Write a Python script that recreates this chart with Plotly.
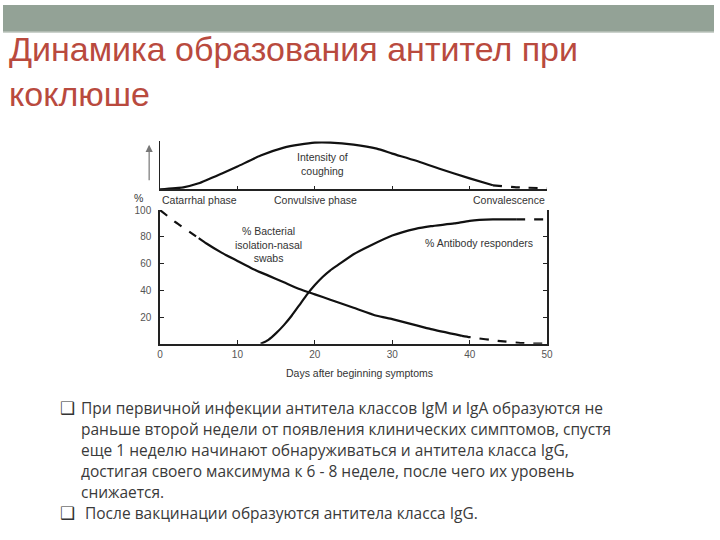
import plotly.graph_objects as go

# ---------------- data ----------------
cough_days = [0, 3, 5, 8, 10, 13, 16, 18, 20, 22, 25, 28, 30, 33, 36, 40, 43, 46, 50]
cough_intensity = [0, 2, 6, 16, 23, 34, 42, 45, 47, 47, 45, 41, 36, 29, 21, 11, 4, 2, 1]
cough_dash_from = 43

bact_days = [0, 2, 4, 5, 6, 8, 10, 12, 14, 16, 18, 20, 22, 25, 28, 30, 33, 35, 39, 40, 44, 47, 50]
bact_values = [100, 91, 83, 79, 75, 68, 62, 56, 51, 46, 41, 37, 33, 27, 21, 18.5, 14, 11, 6, 5, 2, 0.5, 0]
bact_dash_until = 5
bact_dash_from = 39

ab_days = [13, 14, 15, 16, 17, 18, 19, 20, 21, 22, 23, 25, 27, 30, 33, 35, 38, 40, 43, 46, 50]
ab_values = [0, 3, 8, 14, 21, 29, 37, 44, 50, 55, 59, 67, 73, 81, 86, 88, 90, 92, 93, 93, 93]
ab_dash_from = 46

x_ticks = [0, 10, 20, 30, 40, 50]
y_ticks = [20, 40, 60, 80, 100]
phase_labels = ["Catarrhal phase", "Convulsive phase", "Convalescence"]

title_lines = ["Динамика образования антител при", "коклюше"]
bullet_lines = [
    "При первичной инфекции антитела классов IgM и IgA образуются не",
    "раньше второй недели от появления клинических симптомов, спустя",
    "еще 1 неделю начинают обнаруживаться и антитела класса IgG,",
    "достигая своего максимума к 6 - 8 неделе, после чего их уровень",
    "снижается.",
    "После вакцинации образуются антитела класса IgG.",
]
bullet_starts = [0, 5]

W, H = 720, 540


def px(x):
    return x / W


def py(y):
    return 1 - y / H


def split(days, vals, lo=None, hi=None):
    """return solid and dashed segments"""
    segs = []
    if lo is not None:
        d = [(a, b) for a, b in zip(days, vals) if a <= lo]
        segs.append(("dash", d))
    start = lo if lo is not None else days[0]
    end = hi if hi is not None else days[-1]
    d = [(a, b) for a, b in zip(days, vals) if start <= a <= end]
    segs.append(("solid", d))
    if hi is not None:
        d = [(a, b) for a, b in zip(days, vals) if a >= hi]
        segs.append(("dash", d))
    return segs


fig = go.Figure()

ink = "#111111"


def add_curve(segs, xa="x", ya="y"):
    for dash, seg in segs:
        fig.add_trace(go.Scatter(x=[s[0] for s in seg], y=[s[1] for s in seg], mode="lines",
                                 line=dict(color=ink, width=2.2,
                                           dash="dash" if dash == "dash" else "solid",
                                           shape="spline", smoothing=0.5),
                                 xaxis=xa, yaxis=ya, showlegend=False, hoverinfo="skip"))


add_curve(split(cough_days, cough_intensity, hi=cough_dash_from), "x2", "y2")
add_curve(split(bact_days, bact_values, lo=bact_dash_until, hi=bact_dash_from))
add_curve(split(ab_days, ab_values, hi=ab_dash_from))

tick_font = dict(family="Liberation Sans, Arial", size=10, color="#555555")
chart_font = dict(family="Liberation Sans, Arial", size=10.5, color="#333333")

fig.update_layout(
    width=W, height=H, autosize=False,
    margin=dict(l=0, r=0, t=0, b=0),
    paper_bgcolor="white", plot_bgcolor="white",
    xaxis=dict(domain=[px(159), px(551)], range=[0, 50], tickvals=x_ticks,
               ticktext=[str(v) for v in x_ticks], ticks="inside", ticklen=4,
               tickcolor="#222", showline=True, linecolor="#222", linewidth=1.5,
               showgrid=False, zeroline=False, tickfont=tick_font, anchor="y"),
    yaxis=dict(domain=[py(342), py(207)], range=[0, 100], tickvals=y_ticks,
               ticks="inside", ticklen=4, tickcolor="#222", showline=True,
               linecolor="#222", linewidth=1.5, mirror="ticks", showgrid=False,
               zeroline=False, tickfont=tick_font, anchor="x", ticklabelstandoff=5),
    xaxis2=dict(domain=[px(159), px(551)], range=[0, 50], tickvals=[10, 20, 30, 40, 50],
                showticklabels=False, ticks="inside", ticklen=4, tickcolor="#222",
                showline=True, linecolor="#222", linewidth=1.5, showgrid=False,
                zeroline=False, anchor="y2"),
    yaxis2=dict(domain=[py(186), py(137)], range=[0, 49], showticklabels=False,
                ticks="", showline=True, linecolor="#222", linewidth=1.2,
                showgrid=False, zeroline=False, anchor="x2"),
)

ann = []
# chart texts
ann.append(dict(x=21, y=26, xref="x2", yref="y2", text="Intensity of<br>coughing",
                showarrow=False, font=chart_font, align="center", xanchor="center",
                yanchor="middle"))
ann.append(dict(x=px(159), y=py(197), xref="paper", yref="paper", text=phase_labels[0],
                showarrow=False, xanchor="left", yanchor="middle", font=chart_font))
ann.append(dict(x=px(316), y=py(197), xref="paper", yref="paper", text=phase_labels[1],
                showarrow=False, xanchor="center", yanchor="middle", font=chart_font))
ann.append(dict(x=px(551), y=py(197), xref="paper", yref="paper", text=phase_labels[2],
                showarrow=False, xanchor="right", yanchor="middle", font=chart_font))
ann.append(dict(x=px(137), y=py(195), xref="paper", yref="paper", text="%",
                showarrow=False, xanchor="center", yanchor="middle", font=chart_font))
ann.append(dict(x=14, y=74, xref="x", yref="y", text="% Bacterial<br>isolation-nasal<br>swabs",
                showarrow=False, font=chart_font, align="center", xanchor="center",
                yanchor="middle"))
ann.append(dict(x=px(482), y=py(240), xref="paper", yref="paper", text="% Antibody responders",
                showarrow=False, xanchor="center", yanchor="middle", font=chart_font))
ann.append(dict(x=px(361), y=py(371), xref="paper", yref="paper", text="Days after beginning symptoms",
                showarrow=False, xanchor="center", yanchor="middle", font=chart_font))
# arrow
ann.append(dict(x=px(148), y=py(141), xref="paper", yref="paper", text="",
                showarrow=True, ax=0, ay=37, arrowhead=2, arrowsize=1.2, arrowwidth=1.2,
                arrowcolor="#777777"))

# title
title_font = dict(family="Liberation Sans, Arial", size=34, color="#b94a3e")
for i, t in enumerate(title_lines):
    ann.append(dict(x=px(4), y=py(44 + 46 * i), xref="paper", yref="paper", text=t,
                    showarrow=False, xanchor="left", yanchor="middle", font=title_font))

# bullets
body_font = dict(family="Open Sans", size=15.5, color="#3a3a3a")
for i, t in enumerate(bullet_lines):
    y = 407 + 21.2 * i
    if i in bullet_starts:
        ann.append(dict(x=px(56), y=py(y), xref="paper", yref="paper", text="❑",
                        showarrow=False, xanchor="left", yanchor="middle",
                        font=dict(family="DejaVu Sans", size=17, color="#333333")))
        x0 = 77 if i == 0 else 81
    else:
        x0 = 77
    ann.append(dict(x=px(x0), y=py(y), xref="paper", yref="paper", text=t,
                    showarrow=False, xanchor="left", yanchor="middle", font=body_font))

fig.update_layout(annotations=ann)

# top bar
fig.add_shape(type="rect", xref="paper", yref="paper", x0=0, x1=1, y0=py(27), y1=1,
              fillcolor="#93a296", line=dict(width=0), layer="below")
fig.add_shape(type="line", xref="paper", yref="paper", x0=0, x1=1, y0=py(27.5), y1=py(27.5),
              line=dict(color="#b9c3ba", width=1))

fig.write_html("out.html", post_script="document.body.style.margin='0';",
               config={"displayModeBar": False})
